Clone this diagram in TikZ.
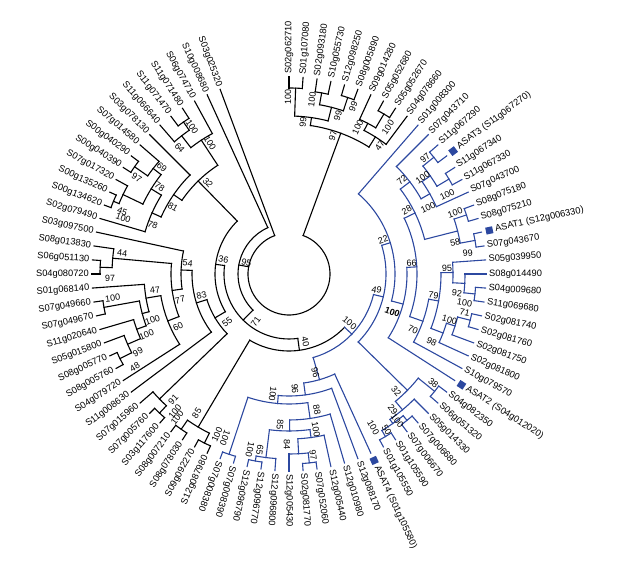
\documentclass[tikz,border=0pt]{standalone}
\usepackage{fontspec}
\setmainfont{Liberation Sans}
\definecolor{treeblue}{RGB}{44,72,160}

\tikzset{
  branch/.style={line width=1.1pt, line cap=rect},
  leaf label/.style={font=\fontsize{9.3}{11}\selectfont, text=black, inner sep=0pt},
  boot label/.style={font=\fontsize{9}{10}\selectfont, text=black, inner sep=0pt},
  asat mark/.style={fill=treeblue, draw=none, minimum size=7pt, inner sep=0pt},
}

% leaf slot i sits at (i-1)*360/88 degrees clockwise from the top
\newcommand{\cladearc}[3]{%
  \pgfmathsetmacro\ca{90-(#1-1)*4.0909091}%
  \pgfmathsetmacro\cb{90-(#2-1)*4.0909091}%
  \draw[branch] (\ca:#3pt) arc[start angle=\ca, end angle=\cb, radius=#3pt];}
% clade: first child slot, last child slot, parent radius, own radius
\newcommand{\clade}[4]{%
  \cladearc{#1}{#2}{#4}%
  \pgfmathsetmacro\cm{90-((#1+#2)/2-1)*4.0909091}%
  \draw[branch] (\cm:#3pt) -- (\cm:#4pt);}
% leaf: slot, parent radius, text
\newcommand{\leaf}[3]{%
  \pgfmathsetmacro\la{90-(#1-1)*4.0909091}%
  \draw[branch] (\la:#2pt) -- (\la:197pt);
  \ifnum#1<51
    \node[leaf label, anchor=west, rotate=\la] (l#1) at (\la:200pt) {#3};
  \else
    \pgfmathsetmacro\lb{\la+180}%
    \node[leaf label, anchor=east, rotate=\lb] (l#1) at (\la:200pt) {#3};
  \fi}
% leaf with a filled square before its text
\newcommand{\asatleaf}[3]{%
  \pgfmathsetmacro\la{90-(#1-1)*4.0909091}%
  \draw[branch] (\la:#2pt) -- (\la:197pt);
  \node[asat mark, rotate=\la] (m#1) at (\la:205pt) {};
  \node[leaf label, anchor=west, rotate=\la] (l#1) at (\la:211pt) {#3};}
% bootstrap values: name, angle from top, radius, text
\newcommand{\bootR}[4]{\node[boot label, rotate=90-#2] (#1) at ({90-#2}:#3pt) {#4};}
\newcommand{\bootL}[4]{\node[boot label, rotate=270-#2] (#1) at ({90-#2}:#3pt) {#4};}

\begin{document}
\begin{tikzpicture}[x=1pt, y=1pt]
  \useasboundingbox (0,0) rectangle (617,569);
  \begin{scope}[shift={(289,295)}]
    % top clade
    \clade{3}{8.875}{41}{150}
    \clade{1.5}{4.5}{150}{158}
    \clade{1}{2}{158}{186}
    \clade{3.5}{5.5}{158}{172}
    \clade{3}{4}{172}{184}
    \clade{5}{6}{172}{186}
    \clade{7.75}{10}{150}{162}
    \clade{7}{8.5}{162}{170}
    \clade{8}{9}{170}{186}
    \leaf{1}{186}{S02g062710}
    \leaf{2}{186}{S01g107080}
    \leaf{3}{184}{S02g093180}
    \leaf{4}{184}{S10g055730}
    \leaf{5}{186}{S12g098250}
    \leaf{6}{186}{S08g005890}
    \leaf{7}{170}{S09g014280}
    \leaf{8}{186}{S05g052680}
    \leaf{9}{186}{S05g052670}
    \leaf{10}{162}{S04g078660}
    % root and inner ladder
    \cladearc{5.9375}{84}{41}
    \leaf{84}{41}{S03g025320}
    \clade{55.97}{83}{41}{51}
    \leaf{83}{51}{S10g008680}
    \clade{43.1}{68.83}{51}{65}
    \clade{33.7}{52.5}{65}{77}
    \clade{51.5}{53.5}{77}{178}
    \clade{51}{52}{178}{189}
    \clade{53}{54}{178}{189}
    \leaf{51}{189}{S12g087980}
    \leaf{52}{189}{S09g092270}
    \leaf{53}{189}{S08g078030}
    \leaf{54}{189}{S08g007210}
    \clade{59.505}{78.156}{65}{74}
    \clade{56.25}{62.76}{74}{86}
    \clade{55.5}{57}{86}{180}
    \clade{55}{56}{180}{190}
    \leaf{55}{190}{S03g117600}
    \leaf{56}{190}{S07g005760}
    \leaf{57}{180}{S07g015960}
    \clade{58}{67.52}{86}{97}
    \leaf{58}{97}{S11g008630}
    \clade{65.039}{70}{97}{108}
    \leaf{70}{108}{S03g097500}
    \clade{61.828}{68.25}{108}{118}
    \clade{67.5}{69}{118}{177}
    \clade{67}{68}{177}{189}
    \leaf{67}{189}{S04g080720}
    \leaf{68}{189}{S06g051130}
    \leaf{69}{177}{S08g013830}
    \clade{59}{64.656}{118}{130}
    \leaf{59}{130}{S04g079720}
    \clade{63.3125}{66}{130}{145}
    \leaf{66}{145}{S01g068140}
    \clade{62.125}{64.5}{145}{152}
    \clade{64}{65}{152}{188}
    \leaf{64}{188}{S07g049670}
    \leaf{65}{188}{S07g049660}
    \clade{61.25}{63}{152}{162}
    \leaf{63}{162}{S11g020640}
    \clade{60.5}{62}{162}{176}
    \leaf{62}{176}{S05g015800}
    \clade{60}{61}{176}{189}
    \leaf{60}{189}{S08g005760}
    \leaf{61}{189}{S08g005770}
    % upper left clade
    \clade{75.4375}{80.875}{74}{130}
    \clade{72.875}{78}{130}{140}
    \leaf{78}{140}{S03g078130}
    \clade{71}{74.75}{140}{150}
    \leaf{71}{150}{S02g079490}
    \clade{73.25}{76.25}{150}{162}
    \clade{72.5}{74}{162}{184}
    \clade{72}{73}{184}{190}
    \leaf{72}{190}{S00g134620}
    \leaf{73}{190}{S00g135260}
    \leaf{74}{184}{S07g017320}
    \clade{75.5}{77}{162}{172}
    \clade{75}{76}{172}{188}
    \leaf{75}{188}{S00g040390}
    \leaf{76}{188}{S00g040290}
    \leaf{77}{172}{S07g014580}
    \clade{79.75}{82}{130}{160}
    \leaf{82}{160}{S06g074710}
    \clade{79}{80.5}{160}{175}
    \leaf{79}{175}{S11g066640}
    \clade{80}{81}{175}{185}
    \leaf{80}{185}{S11g071470}
    \leaf{81}{185}{S11g071480}
    % blue clade
    \begin{scope}[treeblue]
      \clade{26.34}{41.06}{77}{87}
      \clade{18.805}{33.875}{87}{97}
      \clade{11}{26.609}{97}{106}
      \leaf{11}{106}{S01g008300}
      \clade{22.219}{31}{106}{118}
      \asatleaf{31}{118}{ASAT2 (S04g012020)}
      \clade{16.6875}{27.75}{118}{128}
      \clade{13.875}{19.5}{128}{140}
      \clade{12}{15.75}{140}{152}
      \leaf{12}{152}{S07g043710}
      \clade{14.5}{17}{152}{162}
      \leaf{17}{162}{S07g043700}
      \clade{13.5}{15.5}{162}{172}
      \clade{13}{14}{172}{186}
      \leaf{13}{186}{S11g067290}
      \asatleaf{14}{186}{ASAT3 (S11g067270)}
      \clade{15}{16}{172}{186}
      \leaf{15}{186}{S11g067340}
      \leaf{16}{186}{S11g067330}
      \clade{18.5}{20.5}{140}{174}
      \clade{18}{19}{174}{187}
      \leaf{18}{187}{S08g075180}
      \leaf{19}{187}{S08g075210}
      \clade{20}{21}{174}{189}
      \asatleaf{20}{189}{ASAT1 (S12g006330)}
      \leaf{21}{189}{S07g043670}
      \clade{25.5}{30}{128}{142}
      \leaf{30}{142}{S10g079570}
      \clade{22.875}{28.125}{142}{152}
      \clade{22}{23.75}{152}{164}
      \leaf{22}{164}{S05g039950}
      \clade{23}{24.5}{164}{176}
      \leaf{23}{176}{S08g014490}
      \clade{24}{25}{176}{187}
      \leaf{24}{187}{S04g009680}
      \leaf{25}{187}{S11g069680}
      \clade{27.25}{29}{152}{165}
      \leaf{29}{165}{S02g081800}
      \clade{26.5}{28}{165}{174}
      \leaf{28}{174}{S02g081750}
      \clade{26}{27}{174}{187}
      \leaf{26}{187}{S02g081740}
      \leaf{27}{187}{S02g081760}
      % lower blue group
      \clade{32.5}{35.25}{97}{166}
      \clade{32}{33}{166}{187}
      \leaf{32}{187}{S04g082350}
      \leaf{33}{187}{S06g051320}
      \clade{34}{36.5}{166}{177}
      \leaf{34}{177}{S05g014330}
      \clade{35.5}{37.5}{177}{182}
      \clade{35}{36}{182}{188}
      \leaf{35}{188}{S07g006680}
      \leaf{36}{188}{S07g006670}
      \clade{37}{38}{182}{189}
      \leaf{37}{189}{S01g105590}
      \leaf{38}{189}{S01g105550}
      % bottom blue group
      \clade{39}{43.117}{87}{110}
      \asatleaf{39}{110}{ASAT4 (S01g105580)}
      \clade{40}{46.234}{110}{122}
      \leaf{40}{122}{S12g088170}
      \clade{42.969}{49.5}{122}{130}
      \clade{49}{50}{130}{190}
      \leaf{49}{190}{S07g008390}
      \leaf{50}{190}{S07g008380}
      \clade{41}{44.9375}{130}{146}
      \leaf{41}{146}{S12g010980}
      \clade{43.125}{46.75}{146}{157}
      \clade{42}{44.25}{157}{165}
      \leaf{42}{165}{S12g005440}
      \clade{43.5}{45}{165}{180}
      \leaf{45}{180}{S12g005430}
      \clade{43}{44}{180}{190}
      \leaf{43}{190}{S07g052060}
      \leaf{44}{190}{S02g081770}
      \clade{46}{47.5}{157}{185}
      \leaf{46}{185}{S12g096800}
      \clade{47}{48}{185}{190}
      \leaf{47}{190}{S12g096770}
      \leaf{48}{190}{S12g096790}
    \end{scope}
    % bootstrap values, top
    \bootR{bA}{-0.3}{177}{100}
    \bootR{bB}{7.5}{176}{100}
    \bootR{bD}{17.1}{166}{99}
    \bootR{bC}{21}{179}{99}
    \bootR{bE}{5.3}{152}{99}
    \bootR{bT}{17.6}{145}{97}
    \bootR{bG}{25.1}{162}{100}
    \bootR{bF}{34}{177}{100}
    \bootR{bH}{35.3}{157}{47}
    % bootstrap values, blue
    \bootR{bu97}{49.5}{179}{97}
    \bootR{bu2}{54.1}{165}{100}
    \bootR{bu1}{63.4}{177}{100}
    \bootR{bu72}{50.2}{147}{72}
    \bootR{bu28}{61.5}{134}{28}
    \bootR{bu3}{64.6}{154}{100}
    \bootR{bu4}{69.8}{177}{100}
    \bootR{bu58}{79.4}{169}{58}
    \bootR{bu99}{83.3}{180}{99}
    \bootR{bm66}{84.9}{123}{66}
    \bootR{bm95}{87.8}{158}{95}
    \bootR{bm79}{98.3}{146}{79}
    \bootR{bm92}{96.5}{169}{92}
    \bootR{bm1}{99.4}{178}{100}
    \bootR{bm71}{102.5}{180}{71}
    \bootR{bm2}{106}{167}{100}
    \bootR{bm98}{115.4}{158}{98}
    \bootR{bm70}{114.3}{136}{70}
    \bootR{bbold}{110.2}{110}{\textbf{100}}
    \bootR{bm22}{70.1}{100}{22}
    \bootR{bm49}{100.3}{89}{49}
    \bootR{bl38}{127.1}{181}{38}
    \bootR{bl32}{137.6}{159}{32}
    \bootR{bl29}{142.6}{171}{29}
    \bootR{bl1}{143.5}{182}{100}
    \bootR{bl50}{147.9}{184}{50}
    \bootR{bl2}{151.2}{175}{100}
    \bootR{broot}{129}{78}{100}
    \bootR{bb96a}{165}{102}{96}
    \bootR{bb96b}{177}{115}{96}
    \bootR{bbx}{187.7}{121}{100}
    \bootR{bb88}{168.4}{139}{88}
    \bootR{bb85}{183.4}{151}{85}
    \bootR{bb1}{170.2}{158}{100}
    \bootR{bb84}{180.7}{171}{84}
    \bootR{bb97}{172.4}{183}{97}
    \bootR{bb2}{192.5}{180}{100}
    \bootR{bb65}{189.4}{178}{65}
    \bootR{bb3}{201.3}{176}{100}
    % bootstrap values, black left
    \bootR{bk40}{166.4}{70}{40}
    \bootL{bk71}{215}{58}{71}
    \bootL{bk95}{284.7}{44}{95}
    \bootL{bk36}{282.3}{67}{36}
    \bootL{bk55}{232.3}{78}{55}
    \bootL{bk83}{256.4}{90}{83}
    \bootL{bk54}{276.2}{102}{54}
    \bootL{bk77}{256.6}{112}{77}
    \bootL{bk60}{244.5}{123}{60}
    \bootL{bk47}{263.2}{135}{47}
    \bootL{bk1}{251.3}{144}{100}
    \bootL{bk2}{246.8}{155}{100}
    \bootL{bk99}{242.7}{170}{99}
    \bootL{bk48}{238.9}{180}{48}
    \bootL{bk3}{262.2}{178}{100}
    \bootL{bk44}{277.2}{168}{44}
    \bootL{bk97}{268.7}{179}{97}
    \bootL{bk85}{213.5}{167}{85}
    \bootL{bk4}{204.1}{176}{100}
    \bootL{bk5}{217.9}{182}{100}
    \bootL{bk91}{222.6}{171}{91}
    \bootL{bk6}{219.6}{179}{100}
    \bootL{bk32}{318.3}{122}{32}
    \bootL{bk81}{300}{134}{81}
    \bootL{bk78b}{289.8}{145}{78}
    \bootL{bk78a}{304}{156}{78}
    \bootL{bk69}{310}{166}{69}
    \bootL{bk97u}{302.3}{180}{97}
    \bootL{bk45}{290.5}{178}{45}
    \bootL{bk7}{288.6}{175}{100}
    \bootL{bk64}{319.1}{167}{64}
    \bootL{bk8}{326.6}{176}{100}
    \bootL{bk9}{328.9}{153}{100}
  \end{scope}
\end{tikzpicture}
\end{document}
